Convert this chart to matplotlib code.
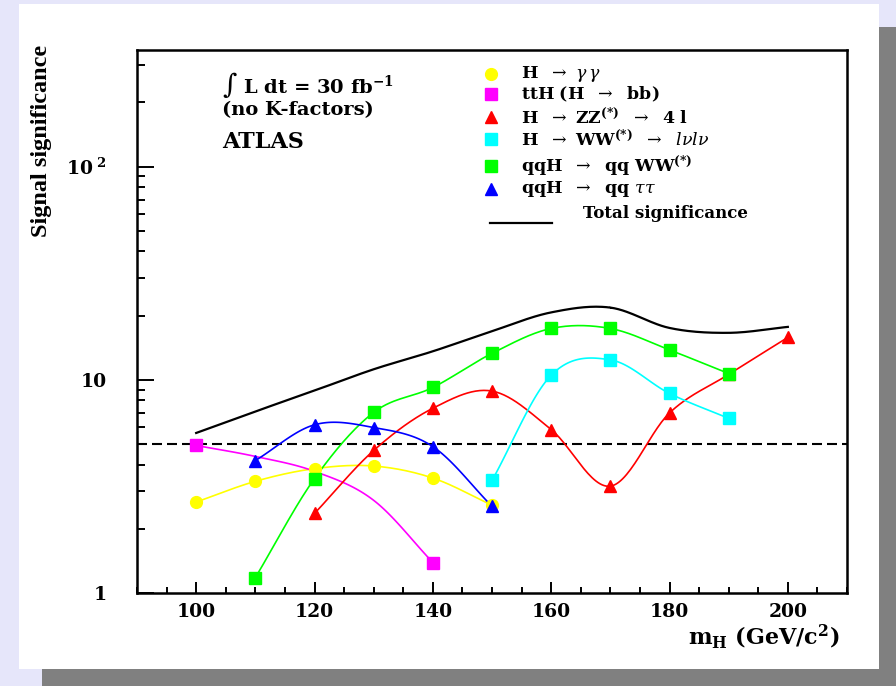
import numpy as np
import matplotlib
matplotlib.use("Agg")
import matplotlib.pyplot as plt
from matplotlib.patches import Rectangle
from matplotlib.ticker import FixedLocator, FixedFormatter, MultipleLocator

plt.rcParams['font.family'] = 'DejaVu Serif'
plt.rcParams['mathtext.fontset'] = 'dejavuserif'

# Higgs masses (GeV/c^2) and signal significances
m_gg = [100, 110, 120, 130, 140, 150]
s_gg = [2.67, 3.34, 3.83, 3.94, 3.46, 2.58]

m_tth = [100, 110, 120, 130, 140]
s_tth = [4.92, 4.37, 3.72, 2.72, 1.39]

m_zz = [120, 130, 140, 150, 160, 170, 180, 190, 200]
s_zz = [2.36, 4.66, 7.35, 8.85, 5.84, 3.17, 6.99, 10.6, 15.8]

m_ww = [150, 160, 170, 180, 190]
s_ww = [3.37, 10.5, 12.4, 8.63, 6.59]

m_qqww = [110, 120, 130, 140, 150, 160, 170, 180, 190]
s_qqww = [1.18, 3.44, 7.03, 9.2, 13.3, 17.4, 17.4, 13.8, 10.7]

m_qqtt = [110, 120, 130, 140, 150]
s_qqtt = [4.18, 6.15, 5.97, 4.86, 2.55]

m_tot = [100, 110, 120, 130, 140, 150, 160, 170, 180, 190, 200]
s_tot = [5.63, 7.1, 8.9, 11.2, 13.6, 16.9, 20.7, 21.8, 17.5, 16.6, 17.7]

discovery = 5.0


def smooth(x, y, n=30):
    # Catmull-Rom curve through the points, in (x, log y) space
    x = np.asarray(x, float)
    ly = np.log10(np.asarray(y, float))
    px = np.concatenate([[2 * x[0] - x[1]], x, [2 * x[-1] - x[-2]]])
    py = np.concatenate([[2 * ly[0] - ly[1]], ly, [2 * ly[-1] - ly[-2]]])
    t = np.linspace(0, 1, n)
    xs, ys = [], []
    for i in range(1, len(px) - 2):
        for p, out in ((px, xs), (py, ys)):
            p0, p1, p2, p3 = p[i - 1], p[i], p[i + 1], p[i + 2]
            out.append(0.5 * ((2 * p1) + (-p0 + p2) * t
                              + (2 * p0 - 5 * p1 + 4 * p2 - p3) * t ** 2
                              + (-p0 + 3 * p1 - 3 * p2 + p3) * t ** 3))
    return np.concatenate(xs), 10 ** np.concatenate(ys)


fig = plt.figure(figsize=(8.96, 6.86), dpi=100)
fig.patch.set_facecolor('#e6e6fa')
fig.patches.append(Rectangle((42 / 896, 0), 1, 659 / 686, transform=fig.transFigure,
                             facecolor='#808080', edgecolor='none', zorder=-10))
fig.patches.append(Rectangle((19 / 896, 17 / 686), 860 / 896, 665 / 686, transform=fig.transFigure,
                             facecolor='white', edgecolor='none', zorder=-9))

ax = fig.add_axes([137 / 896, 93 / 686, 710 / 896, 543 / 686])
ax.set_yscale('log')
ax.set_xlim(90, 210)
ax.set_ylim(1, 352)

series = [
    (m_gg, s_gg, '#ffff00', 'o', None),
    (m_tth, s_tth, '#ff00ff', 's', [0, 4]),
    (m_zz, s_zz, '#ff0000', '^', None),
    (m_ww, s_ww, '#00ffff', 's', None),
    (m_qqww, s_qqww, '#00ff00', 's', None),
    (m_qqtt, s_qqtt, '#0000ff', '^', None),
]
for mx, sy, col, mk, every in series:
    cx, cy = smooth(mx, sy)
    ax.plot(cx, cy, color=col, lw=1.2, zorder=3)
    if every is not None:
        mx = [mx[i] for i in every]
        sy = [sy[i] for i in every]
    ax.plot(mx, sy, ls='none', marker=mk, color=col, ms=8.5, mec=col, zorder=4)

tx, ty = smooth(m_tot, s_tot)
ax.plot(tx, ty, color='black', lw=1.6, zorder=3)
ax.axhline(discovery, color='black', lw=1.5, ls=(0, (4.8, 2.4)), zorder=2)

# axes styling
for sp in ax.spines.values():
    sp.set_linewidth(1.8)
ax.yaxis.set_major_locator(FixedLocator([1, 10, 100]))
ax.yaxis.set_major_formatter(FixedFormatter(['1', '10', r'10$^{\ \mathbf{2}}$']))
ax.yaxis.set_minor_locator(FixedLocator([2, 3, 4, 5, 6, 7, 8, 9, 20, 30, 40, 50, 60, 70, 80, 90, 200, 300]))
ax.yaxis.set_minor_formatter(FixedFormatter([]))
ax.xaxis.set_major_locator(MultipleLocator(20))
ax.xaxis.set_minor_locator(MultipleLocator(5))
ax.tick_params(axis='y', which='major', direction='in', length=12, width=1.4, pad=22, labelsize=13.5)
ax.tick_params(axis='y', which='minor', direction='in', length=6, width=1.4)
ax.tick_params(axis='x', which='major', direction='in', length=7.7, width=1.4, pad=7, labelsize=13.5)
ax.tick_params(axis='x', which='minor', direction='in', length=4.3, width=1.4)
for lab in ax.get_xticklabels() + ax.get_yticklabels():
    lab.set_fontweight('bold')

ax.set_ylabel('Signal significance', fontsize=17.5, loc='top', family='Liberation Serif',
              fontweight='bold')
ax.yaxis.set_label_coords(-0.12, 1.01)
ax.text(0.99, -0.055, r'm$_{\mathbf{H}}$ (GeV/c$^{\mathbf{2}}$)', transform=ax.transAxes,
        ha='right', va='top', fontsize=16, fontweight='bold')

ax.text(0.12, 0.9355, r'∫ L dt = 30 fb$^{\mathbf{-1}}$', transform=ax.transAxes,
        va='center', fontsize=14, fontweight='bold')
ax.text(0.12, 0.889, '(no K-factors)', transform=ax.transAxes,
        va='center', fontsize=14, fontweight='bold')
ax.text(0.12, 0.830, 'ATLAS', transform=ax.transAxes,
        va='center', fontsize=16, fontweight='bold')

# legend drawn by hand to keep the original spacing
labels = [
    r'$\mathbf{H}\ \ \rightarrow\ \gamma\,\gamma$',
    r'$\mathbf{ttH\ (H}\ \ \rightarrow\ \ \mathbf{bb)}$',
    r'$\mathbf{H}\ \ \rightarrow\ \mathbf{ZZ}^{\mathbf{(*)}}\ \ \rightarrow\ \ \mathbf{4\ l}$',
    r'$\mathbf{H}\ \ \rightarrow\ \mathbf{WW}^{\mathbf{(*)}}\ \ \rightarrow\ \ l\nu l\nu$',
    r'$\mathbf{qqH}\ \ \rightarrow\ \ \mathbf{qq\ WW}^{\mathbf{(*)}}$',
    r'$\mathbf{qqH}\ \ \rightarrow\ \ \mathbf{qq}\ \tau\tau$',
]
rows = [0.9558, 0.919, 0.8757, 0.836, 0.7855, 0.744]
for (mx, sy, col, mk, every), lab, yy in zip(series, labels, rows):
    ax.plot([0.4986], [yy], transform=ax.transAxes, ls='none', marker=mk,
            color=col, ms=8.5, clip_on=False)
    ax.text(0.541, yy, lab, transform=ax.transAxes, va='center', fontsize=12.5)
ax.plot([0.497, 0.5845], [0.682, 0.682], transform=ax.transAxes, color='black', lw=1.6)
ax.text(0.628, 0.698, 'Total significance', transform=ax.transAxes, va='center',
        fontsize=12, fontweight='bold')

fig.savefig('out.png', dpi=100)
